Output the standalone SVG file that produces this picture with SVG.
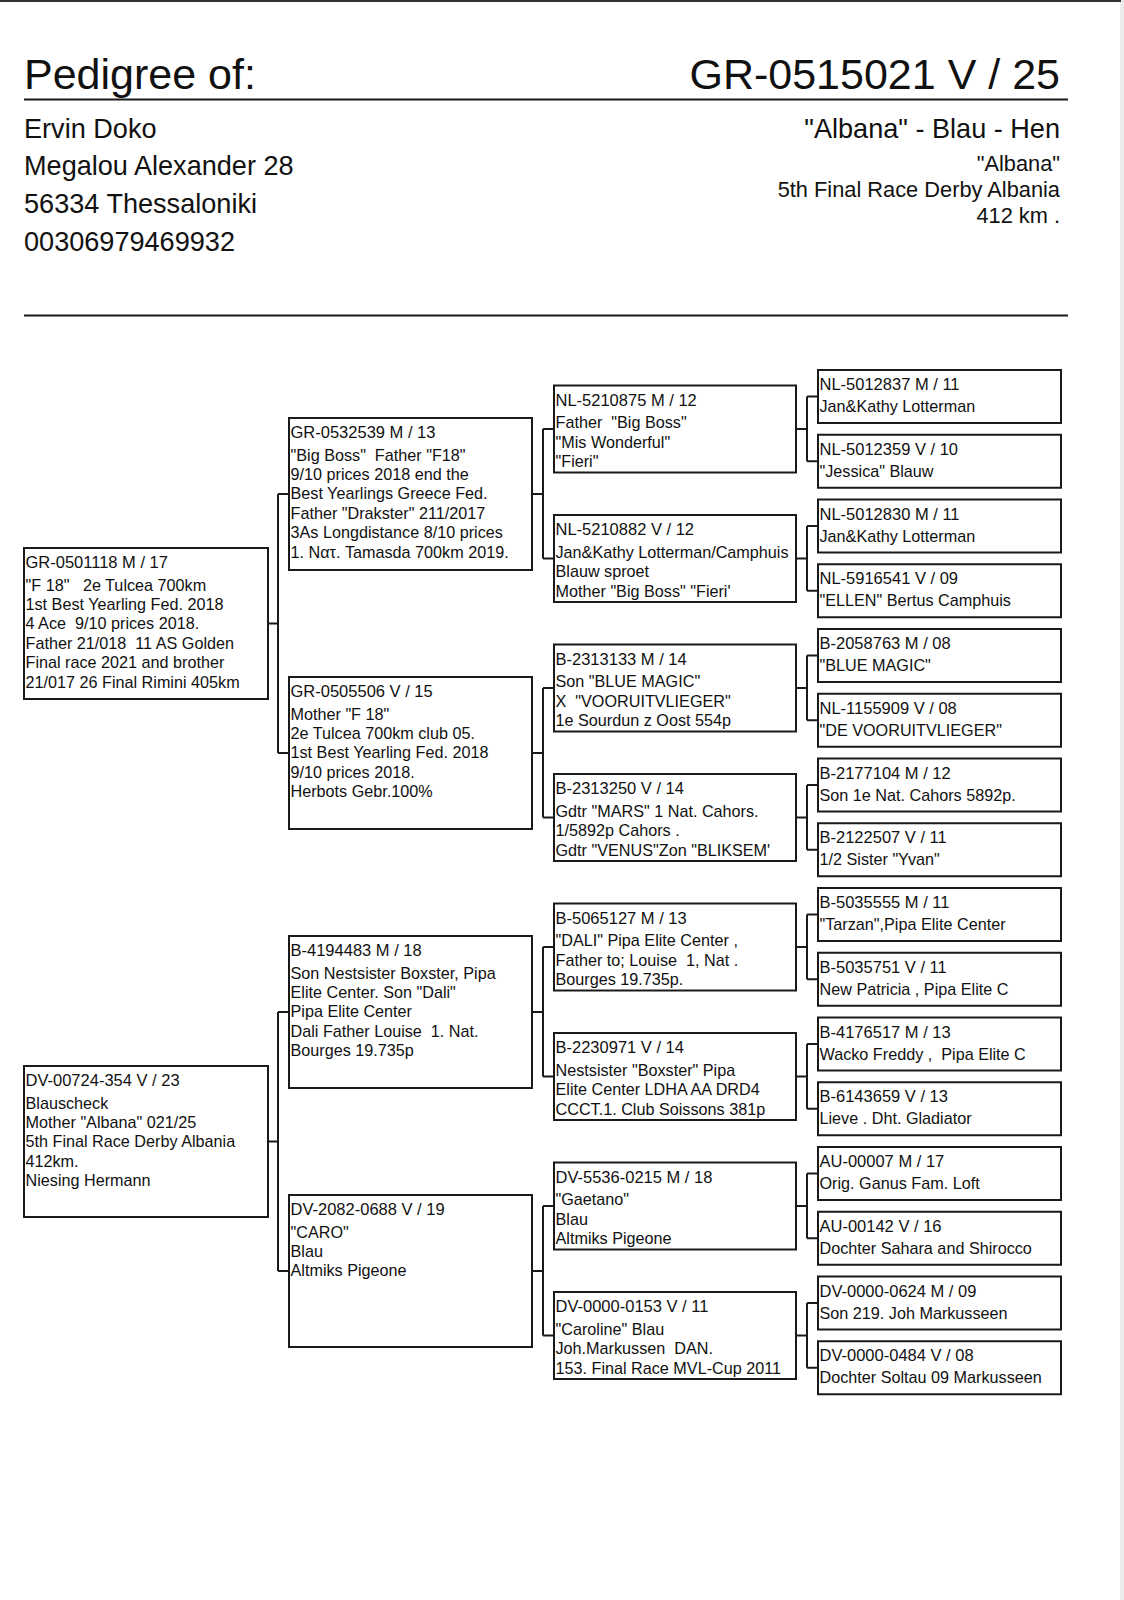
<svg xmlns="http://www.w3.org/2000/svg" width="1124" height="1600" viewBox="0 0 1124 1600">
<style>
.bg{fill:#fff}
.edge{fill:#ececec}
.top{fill:#333}
.rule{stroke:#1a1a1a;stroke-width:2;fill:none}
.box{fill:#fff;stroke:#1a1a1a;stroke-width:2}
.con{fill:none;stroke:#1a1a1a;stroke-width:2}
text{font-family:"Liberation Sans",Arial,sans-serif;fill:#111;white-space:pre}
.h1{font-size:43px}
.h2{font-size:27.1px}
.h3{font-size:21.8px}
.r{font-size:16.5px}
.d{font-size:16.2px}
.end{text-anchor:end}
</style>
<rect class="bg" x="0" y="0" width="1124" height="1600"/>
<rect class="edge" x="1120" y="0" width="4" height="1600"/>
<rect class="top" x="0" y="0" width="1121" height="2"/>

<g id="header">
<text class="h1" x="24" y="89">Pedigree of:</text>
<text class="h1 end" x="1060" y="89">GR-0515021 V / 25</text>
<line class="rule" x1="24" y1="99.5" x2="1068" y2="99.5"/>
<text class="h2" x="24" y="137.5">Ervin Doko</text>
<text class="h2" x="24" y="175">Megalou Alexander 28</text>
<text class="h2" x="24" y="213">56334 Thessaloniki</text>
<text class="h2" x="24" y="250.5">00306979469932</text>
<text class="h2 end" x="1060" y="137.5">"Albana" - Blau - Hen</text>
<text class="h3 end" x="1060" y="171">"Albana"</text>
<text class="h3 end" x="1060" y="197">5th Final Race Derby Albania</text>
<text class="h3 end" x="1060" y="223">412 km .</text>
<line class="rule" x1="24" y1="315.5" x2="1068" y2="315.5"/>
</g>

<g id="connectors">
<path class="con" d="M268 623.5H278M278 494V753M278 494H289M278 753H289"/>
<path class="con" d="M268 1141.5H278M278 1012V1271M278 1012H289M278 1271H289"/>
<path class="con" d="M532 494H543M543 429V558.5M543 429H554M543 558.5H554"/>
<path class="con" d="M532 753H543M543 688V817.5M543 688H554M543 817.5H554"/>
<path class="con" d="M532 1012H543M543 947V1076.5M543 947H554M543 1076.5H554"/>
<path class="con" d="M532 1271H543M543 1206V1335.5M543 1206H554M543 1335.5H554"/>
<path class="con" d="M796 429H807M807 396.5V461.25M807 396.5H818M807 461.25H818"/>
<path class="con" d="M796 558.5H807M807 526V590.75M807 526H818M807 590.75H818"/>
<path class="con" d="M796 688H807M807 655.5V720.25M807 655.5H818M807 720.25H818"/>
<path class="con" d="M796 817.5H807M807 785V849.75M807 785H818M807 849.75H818"/>
<path class="con" d="M796 947H807M807 914.5V979.25M807 914.5H818M807 979.25H818"/>
<path class="con" d="M796 1076.5H807M807 1044V1108.75M807 1044H818M807 1108.75H818"/>
<path class="con" d="M796 1206H807M807 1173.5V1238.25M807 1173.5H818M807 1238.25H818"/>
<path class="con" d="M796 1335.5H807M807 1303V1367.75M807 1303H818M807 1367.75H818"/>
</g>

<!-- Generation 1 -->
<g id="sire" transform="translate(24,548)">
<rect class="box" x="0" y="0" width="244" height="151"/>
<text class="r" x="1.5" y="20">GR-0501118 M / 17</text>
<text class="d" x="1.5" y="42.5">"F 18"   2e Tulcea 700km</text>
<text class="d" x="1.5" y="61.9">1st Best Yearling Fed. 2018</text>
<text class="d" x="1.5" y="81.3">4 Ace  9/10 prices 2018.</text>
<text class="d" x="1.5" y="100.7">Father 21/018  11 AS Golden</text>
<text class="d" x="1.5" y="120.1">Final race 2021 and brother</text>
<text class="d" x="1.5" y="139.5">21/017 26 Final Rimini 405km</text>
</g>
<g id="dam" transform="translate(24,1066)">
<rect class="box" x="0" y="0" width="244" height="151"/>
<text class="r" x="1.5" y="20">DV-00724-354 V / 23</text>
<text class="d" x="1.5" y="42.5">Blauscheck</text>
<text class="d" x="1.5" y="61.9">Mother "Albana" 021/25</text>
<text class="d" x="1.5" y="81.3">5th Final Race Derby Albania</text>
<text class="d" x="1.5" y="100.7">412km.</text>
<text class="d" x="1.5" y="120.1">Niesing Hermann</text>
</g>

<!-- Generation 2 -->
<g id="g2-1" transform="translate(289,418)">
<rect class="box" x="0" y="0" width="243" height="152"/>
<text class="r" x="1.5" y="20">GR-0532539 M / 13</text>
<text class="d" x="1.5" y="42.5">"Big Boss"  Father "F18"</text>
<text class="d" x="1.5" y="61.9">9/10 prices 2018 end the</text>
<text class="d" x="1.5" y="81.3">Best Yearlings Greece Fed.</text>
<text class="d" x="1.5" y="100.7">Father "Drakster" 211/2017</text>
<text class="d" x="1.5" y="120.1">3As Longdistance 8/10 prices</text>
<text class="d" x="1.5" y="139.5">1. Νατ. Tamasda 700km 2019.</text>
</g>
<g id="g2-2" transform="translate(289,677)">
<rect class="box" x="0" y="0" width="243" height="152"/>
<text class="r" x="1.5" y="20">GR-0505506 V / 15</text>
<text class="d" x="1.5" y="42.5">Mother "F 18"</text>
<text class="d" x="1.5" y="61.9">2e Tulcea 700km club 05.</text>
<text class="d" x="1.5" y="81.3">1st Best Yearling Fed. 2018</text>
<text class="d" x="1.5" y="100.7">9/10 prices 2018.</text>
<text class="d" x="1.5" y="120.1">Herbots Gebr.100%</text>
</g>
<g id="g2-3" transform="translate(289,936)">
<rect class="box" x="0" y="0" width="243" height="152"/>
<text class="r" x="1.5" y="20">B-4194483 M / 18</text>
<text class="d" x="1.5" y="42.5">Son Nestsister Boxster, Pipa</text>
<text class="d" x="1.5" y="61.9">Elite Center. Son "Dali"</text>
<text class="d" x="1.5" y="81.3">Pipa Elite Center</text>
<text class="d" x="1.5" y="100.7">Dali Father Louise  1. Nat.</text>
<text class="d" x="1.5" y="120.1">Bourges 19.735p</text>
</g>
<g id="g2-4" transform="translate(289,1195)">
<rect class="box" x="0" y="0" width="243" height="152"/>
<text class="r" x="1.5" y="20">DV-2082-0688 V / 19</text>
<text class="d" x="1.5" y="42.5">"CARO"</text>
<text class="d" x="1.5" y="61.9">Blau</text>
<text class="d" x="1.5" y="81.3">Altmiks Pigeone</text>
</g>

<!-- Generation 3 -->
<g id="g3-1" transform="translate(554,385.5)">
<rect class="box" x="0" y="0" width="242" height="87"/>
<text class="r" x="1.5" y="20">NL-5210875 M / 12</text>
<text class="d" x="1.5" y="42.5">Father  "Big Boss"</text>
<text class="d" x="1.5" y="62">"Mis Wonderful"</text>
<text class="d" x="1.5" y="81.5">"Fieri"</text>
</g>
<g id="g3-2" transform="translate(554,515)">
<rect class="box" x="0" y="0" width="242" height="87"/>
<text class="r" x="1.5" y="20">NL-5210882 V / 12</text>
<text class="d" x="1.5" y="42.5">Jan&amp;Kathy Lotterman/Camphuis</text>
<text class="d" x="1.5" y="62">Blauw sproet</text>
<text class="d" x="1.5" y="81.5">Mother "Big Boss" "Fieri'</text>
</g>
<g id="g3-3" transform="translate(554,644.5)">
<rect class="box" x="0" y="0" width="242" height="87"/>
<text class="r" x="1.5" y="20">B-2313133 M / 14</text>
<text class="d" x="1.5" y="42.5">Son "BLUE MAGIC"</text>
<text class="d" x="1.5" y="62">X  "VOORUITVLIEGER"</text>
<text class="d" x="1.5" y="81.5">1e Sourdun z Oost 554p</text>
</g>
<g id="g3-4" transform="translate(554,774)">
<rect class="box" x="0" y="0" width="242" height="87"/>
<text class="r" x="1.5" y="20">B-2313250 V / 14</text>
<text class="d" x="1.5" y="42.5">Gdtr "MARS" 1 Nat. Cahors.</text>
<text class="d" x="1.5" y="62">1/5892p Cahors .</text>
<text class="d" x="1.5" y="81.5">Gdtr "VENUS"Zon "BLIKSEM'</text>
</g>
<g id="g3-5" transform="translate(554,903.5)">
<rect class="box" x="0" y="0" width="242" height="87"/>
<text class="r" x="1.5" y="20">B-5065127 M / 13</text>
<text class="d" x="1.5" y="42.5">"DALI" Pipa Elite Center ,</text>
<text class="d" x="1.5" y="62">Father to; Louise  1, Nat .</text>
<text class="d" x="1.5" y="81.5">Bourges 19.735p.</text>
</g>
<g id="g3-6" transform="translate(554,1033)">
<rect class="box" x="0" y="0" width="242" height="87"/>
<text class="r" x="1.5" y="20">B-2230971 V / 14</text>
<text class="d" x="1.5" y="42.5">Nestsister "Boxster" Pipa</text>
<text class="d" x="1.5" y="62">Elite Center LDHA AA DRD4</text>
<text class="d" x="1.5" y="81.5">CCCT.1. Club Soissons 381p</text>
</g>
<g id="g3-7" transform="translate(554,1162.5)">
<rect class="box" x="0" y="0" width="242" height="87"/>
<text class="r" x="1.5" y="20">DV-5536-0215 M / 18</text>
<text class="d" x="1.5" y="42.5">"Gaetano"</text>
<text class="d" x="1.5" y="62">Blau</text>
<text class="d" x="1.5" y="81.5">Altmiks Pigeone</text>
</g>
<g id="g3-8" transform="translate(554,1292)">
<rect class="box" x="0" y="0" width="242" height="87"/>
<text class="r" x="1.5" y="20">DV-0000-0153 V / 11</text>
<text class="d" x="1.5" y="42.5">"Caroline" Blau</text>
<text class="d" x="1.5" y="62">Joh.Markussen  DAN.</text>
<text class="d" x="1.5" y="81.5">153. Final Race MVL-Cup 2011</text>
</g>

<!-- Generation 4 -->
<g id="g4-1" transform="translate(818,370)">
<rect class="box" x="0" y="0" width="243" height="53"/>
<text class="r" x="1.5" y="20">NL-5012837 M / 11</text>
<text class="d" x="1.5" y="42">Jan&amp;Kathy Lotterman</text>
</g>
<g id="g4-2" transform="translate(818,434.75)">
<rect class="box" x="0" y="0" width="243" height="53"/>
<text class="r" x="1.5" y="20">NL-5012359 V / 10</text>
<text class="d" x="1.5" y="42">"Jessica" Blauw</text>
</g>
<g id="g4-3" transform="translate(818,499.5)">
<rect class="box" x="0" y="0" width="243" height="53"/>
<text class="r" x="1.5" y="20">NL-5012830 M / 11</text>
<text class="d" x="1.5" y="42">Jan&amp;Kathy Lotterman</text>
</g>
<g id="g4-4" transform="translate(818,564.25)">
<rect class="box" x="0" y="0" width="243" height="53"/>
<text class="r" x="1.5" y="20">NL-5916541 V / 09</text>
<text class="d" x="1.5" y="42">"ELLEN" Bertus Camphuis</text>
</g>
<g id="g4-5" transform="translate(818,629)">
<rect class="box" x="0" y="0" width="243" height="53"/>
<text class="r" x="1.5" y="20">B-2058763 M / 08</text>
<text class="d" x="1.5" y="42">"BLUE MAGIC"</text>
</g>
<g id="g4-6" transform="translate(818,693.75)">
<rect class="box" x="0" y="0" width="243" height="53"/>
<text class="r" x="1.5" y="20">NL-1155909 V / 08</text>
<text class="d" x="1.5" y="42">"DE VOORUITVLIEGER"</text>
</g>
<g id="g4-7" transform="translate(818,758.5)">
<rect class="box" x="0" y="0" width="243" height="53"/>
<text class="r" x="1.5" y="20">B-2177104 M / 12</text>
<text class="d" x="1.5" y="42">Son 1e Nat. Cahors 5892p.</text>
</g>
<g id="g4-8" transform="translate(818,823.25)">
<rect class="box" x="0" y="0" width="243" height="53"/>
<text class="r" x="1.5" y="20">B-2122507 V / 11</text>
<text class="d" x="1.5" y="42">1/2 Sister "Yvan"</text>
</g>
<g id="g4-9" transform="translate(818,888)">
<rect class="box" x="0" y="0" width="243" height="53"/>
<text class="r" x="1.5" y="20">B-5035555 M / 11</text>
<text class="d" x="1.5" y="42">"Tarzan",Pipa Elite Center</text>
</g>
<g id="g4-10" transform="translate(818,952.75)">
<rect class="box" x="0" y="0" width="243" height="53"/>
<text class="r" x="1.5" y="20">B-5035751 V / 11</text>
<text class="d" x="1.5" y="42">New Patricia , Pipa Elite C</text>
</g>
<g id="g4-11" transform="translate(818,1017.5)">
<rect class="box" x="0" y="0" width="243" height="53"/>
<text class="r" x="1.5" y="20">B-4176517 M / 13</text>
<text class="d" x="1.5" y="42">Wacko Freddy ,  Pipa Elite C</text>
</g>
<g id="g4-12" transform="translate(818,1082.25)">
<rect class="box" x="0" y="0" width="243" height="53"/>
<text class="r" x="1.5" y="20">B-6143659 V / 13</text>
<text class="d" x="1.5" y="42">Lieve . Dht. Gladiator</text>
</g>
<g id="g4-13" transform="translate(818,1147)">
<rect class="box" x="0" y="0" width="243" height="53"/>
<text class="r" x="1.5" y="20">AU-00007 M / 17</text>
<text class="d" x="1.5" y="42">Orig. Ganus Fam. Loft</text>
</g>
<g id="g4-14" transform="translate(818,1211.75)">
<rect class="box" x="0" y="0" width="243" height="53"/>
<text class="r" x="1.5" y="20">AU-00142 V / 16</text>
<text class="d" x="1.5" y="42">Dochter Sahara and Shirocco</text>
</g>
<g id="g4-15" transform="translate(818,1276.5)">
<rect class="box" x="0" y="0" width="243" height="53"/>
<text class="r" x="1.5" y="20">DV-0000-0624 M / 09</text>
<text class="d" x="1.5" y="42">Son 219. Joh Markusseen</text>
</g>
<g id="g4-16" transform="translate(818,1341.25)">
<rect class="box" x="0" y="0" width="243" height="53"/>
<text class="r" x="1.5" y="20">DV-0000-0484 V / 08</text>
<text class="d" x="1.5" y="42">Dochter Soltau 09 Markusseen</text>
</g>
</svg>
